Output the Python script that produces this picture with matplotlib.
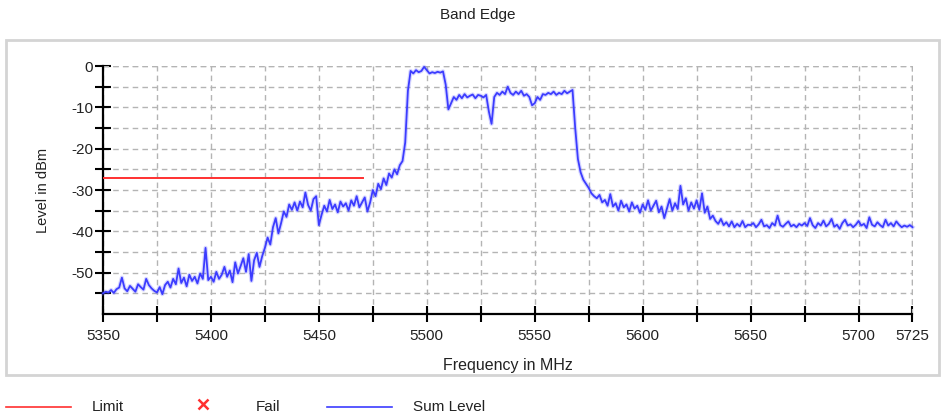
import numpy as np
import matplotlib
matplotlib.use("Agg")
import matplotlib.pyplot as plt
from matplotlib.lines import Line2D
from matplotlib.patches import Rectangle

plt.rcParams['font.family'] = ['Liberation Sans', 'DejaVu Sans']

# measured trace, one value every 1.25 MHz from 5350 to 5725 MHz
freq = np.linspace(5350, 5725, 301)
level = [
    -55.0, -54.6, -54.8, -54.2, -54.9, -54.0, -53.6, -51.2, -53.8, -54.5, -53.2, -53.9, -54.6, -52.8, -53.5, -54.1, -51.5, -53.0, -53.8, -54.4,
    -54.8, -53.5, -55.2, -53.0, -52.2, -53.6, -51.5, -52.8, -49.0, -52.5, -51.2, -53.3, -50.5, -52.0, -51.0, -52.6, -50.2, -51.5, -44.0, -51.8,
    -51.0, -52.2, -49.8, -51.5, -50.5, -48.6, -51.0, -49.5, -52.3, -47.5, -50.2, -48.4, -46.5, -49.8, -45.5, -52.0, -47.0, -45.2, -48.6, -46.0,
    -44.0, -41.5, -43.2, -39.0, -36.8, -40.5, -38.0, -35.2, -36.5, -33.5, -34.8, -33.0, -35.0, -32.8, -34.2, -30.6, -33.6, -35.0, -32.2, -31.5,
    -38.5, -36.0, -33.8, -35.2, -32.4, -34.6, -33.5, -35.4, -32.8, -34.0, -33.2, -35.0, -32.5, -33.8, -31.5, -34.2, -33.0, -31.8, -35.2, -33.0,
    -30.0, -31.5, -28.5, -29.8, -27.2, -28.8, -26.0, -27.0, -25.0, -26.2, -24.0, -23.0, -18.5, -6.0, -1.2, -1.8, -1.0, -1.5, -1.2, -0.2,
    -1.0, -1.8, -1.5, -1.7, -1.4, -1.6, -1.3, -4.5, -10.5, -9.0, -7.5, -8.2, -7.0, -7.8, -6.8, -7.6, -7.2, -6.9, -7.8, -7.0,
    -7.2, -7.6, -7.0, -11.0, -14.0, -7.5, -6.5, -7.0, -6.2, -6.8, -5.0, -6.5, -7.0, -6.2, -6.8, -6.0, -7.2, -6.8, -7.5, -9.5,
    -9.0, -7.5, -8.2, -6.8, -7.0, -6.5, -6.8, -6.2, -7.0, -6.5, -6.8, -6.0, -6.6, -6.2, -5.8, -15.0, -22.5, -25.7, -27.5, -28.5,
    -29.5, -30.8, -31.5, -32.0, -31.2, -33.0, -32.4, -33.8, -31.0, -34.0, -33.2, -35.0, -32.6, -34.2, -33.5, -35.2, -33.0, -34.5, -33.8, -35.5,
    -33.5, -34.8, -32.5, -35.0, -33.8, -32.6, -35.4, -34.0, -36.8, -34.5, -32.2, -35.0, -33.2, -34.6, -29.0, -33.5, -32.0, -35.0, -33.0, -34.5,
    -32.5, -34.8, -30.8, -35.5, -34.0, -37.0, -36.2, -37.5, -38.2, -37.0, -38.5, -37.8, -38.8, -37.6, -39.0, -38.2, -38.8, -37.5, -39.0, -38.4,
    -38.5, -38.0, -39.0, -38.3, -37.2, -38.8, -38.5, -39.2, -38.0, -38.6, -36.2, -38.5, -38.9, -38.2, -37.6, -38.8, -38.4, -39.0, -38.2, -38.6,
    -38.0, -38.7, -36.8, -38.5, -39.2, -38.0, -38.6, -37.4, -38.8, -38.2, -37.0, -38.9, -38.4, -39.4, -38.0, -37.2, -38.6, -38.3, -39.0, -38.4,
    -37.5, -38.6, -38.2, -39.2, -36.6, -38.4, -38.8, -37.8, -38.5, -39.0, -37.2, -38.6, -38.0, -38.8, -37.6, -38.4, -39.0, -38.6, -38.9, -38.5,
    -39.0,
]

limit_freq = [5350, 5470.5]
limit_level = [-27, -27]

x_ticks = list(range(5350, 5726, 25))
x_labels = ['5350', '', '5400', '', '5450', '', '5500', '', '5550', '', '5600', '', '5650', '', '5700', '5725']
y_ticks = list(range(-55, 1, 5))
y_labels = ['', '-50', '', '-40', '', '-30', '', '-20', '', '-10', '', '0']

W, H = 942, 418
fig = plt.figure(figsize=(W / 100, H / 100), dpi=100)

# outer frame
fig.add_artist(Rectangle((6 / W, 1 - 375 / H), 933 / W, 335 / H, transform=fig.transFigure,
                         fill=False, edgecolor='#d4d4d4', lw=2))

ax = fig.add_axes([103 / W, 1 - 314 / H, (912.5 - 103) / W, (314 - 66) / H])
ax.plot(freq, level, color='#5a5aff', lw=3, alpha=0.25, clip_on=False, zorder=3)
ax.plot(freq, level, color='#3c3cff', lw=1.3, clip_on=False, zorder=3)
ax.plot(limit_freq, limit_level, color='#ff3030', lw=1.4, zorder=3)

ax.set_xlim(5350, 5725)
ax.set_ylim(-60, 0)
ax.set_xticks(x_ticks)
ax.set_xticklabels(x_labels)
ax.set_yticks(y_ticks)
ax.set_yticklabels(y_labels)
ax.tick_params(axis='both', direction='inout', length=12, width=1.5, colors='black',
               labelsize=11, labelcolor='#222222')
ax.tick_params(axis='x', pad=5)
ax.tick_params(axis='y', pad=1)

for s in ['top', 'right']:
    ax.spines[s].set_visible(False)
for s in ['left', 'bottom']:
    ax.spines[s].set_linewidth(1.6)

ax.grid(True, color='#b4b4b4', linestyle=(0, (4, 3)), lw=1)
ax.axvline(5725, color='#b4b4b4', linestyle=(0, (4, 3)), lw=1)
ax.axhline(0, color='#b4b4b4', linestyle=(0, (4, 3)), lw=1)

ax.set_xlabel('Frequency in MHz', fontsize=11.5, color='#222222')
ax.xaxis.set_label_coords(0.5, (314 - 358) / 248)
ax.set_ylabel('Level in dBm', fontsize=10.5, color='#222222')
ax.yaxis.set_label_coords((50 - 103) / 809.5, 0.5)

fig.text(478 / W, 1 - 15 / H, 'Band Edge', ha='center', va='center', fontsize=11, color='#222222')

# legend row
ly = 1 - 407 / H
fig.add_artist(Line2D([6 / W, 71 / W], [ly, ly], color='#ff3030', lw=1.2, transform=fig.transFigure))
fig.text(92 / W, ly, 'Limit', ha='left', va='center', fontsize=11, color='#222222')
fig.add_artist(Line2D([203 / W], [ly + 3 / H], marker='x', color='#ff3030', markersize=7, mew=1.8,
                      linestyle='none', transform=fig.transFigure))
fig.text(256 / W, ly, 'Fail', ha='left', va='center', fontsize=11, color='#222222')
fig.add_artist(Line2D([327 / W, 392 / W], [ly, ly], color='#3c3cff', lw=1.2, transform=fig.transFigure))
fig.text(413 / W, ly, 'Sum Level', ha='left', va='center', fontsize=11, color='#222222')

fig.savefig('out.png', dpi=100)
